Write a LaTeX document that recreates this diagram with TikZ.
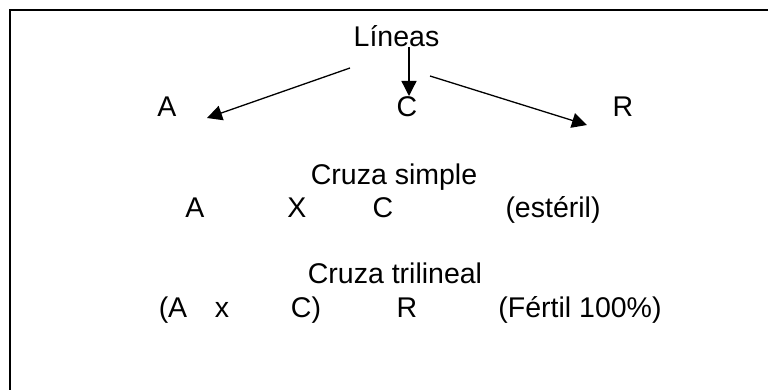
\documentclass[tikz,border=0pt]{standalone}
\usepackage{fontspec}
\setmainfont{Liberation Sans}
\usetikzlibrary{arrows.meta}
\begin{document}
\begin{tikzpicture}[x=1pt,y=-1pt,
  lbl/.style={inner sep=0pt,anchor=base,font=\fontsize{28.5}{34}\selectfont},
  frame/.style={line width=2pt,black},
  arr/.style={line width=1.3pt,-{Triangle[length=15pt,width=15pt]}}]
\useasboundingbox (0,0) rectangle (768,390);
\draw[frame] (768,10) -- (10,10) -- (10,390);
\node[lbl] (lin) at (396.5,47) {Líneas};
\node[lbl] (a) at (167,117) {A};
\node[lbl] (c) at (407,117) {C};
\node[lbl] (r) at (623,117) {R};
\coordinate (s1) at (350,68);
\coordinate (s2) at (409,47);
\coordinate (s3) at (430,76);
\coordinate (t1) at (207,118);
\coordinate (t2) at (409,96);
\coordinate (t3) at (587,125);
\draw[arr] (s1) -- (t1);
\draw[arr] (s2) -- (t2);
\draw[arr] (s3) -- (t3);
\node[lbl] (cs) at (394,185) {Cruza simple};
\node[lbl] (a2) at (195,218) {A};
\node[lbl] (x2) at (297,218) {X};
\node[lbl] (c2) at (383,218) {C};
\node[lbl] (est) at (553,218) {(estéril)};
\node[lbl] (ct) at (395,283) {Cruza trilineal};
\node[lbl] (a3) at (173,317) {(A};
\node[lbl] (x3) at (222,317) {x};
\node[lbl] (c3) at (306,317) {C)};
\node[lbl] (r3) at (407,317) {R};
\node[lbl] (fer) at (580,317) {(Fértil 100\%)};
\end{tikzpicture}
\end{document}
